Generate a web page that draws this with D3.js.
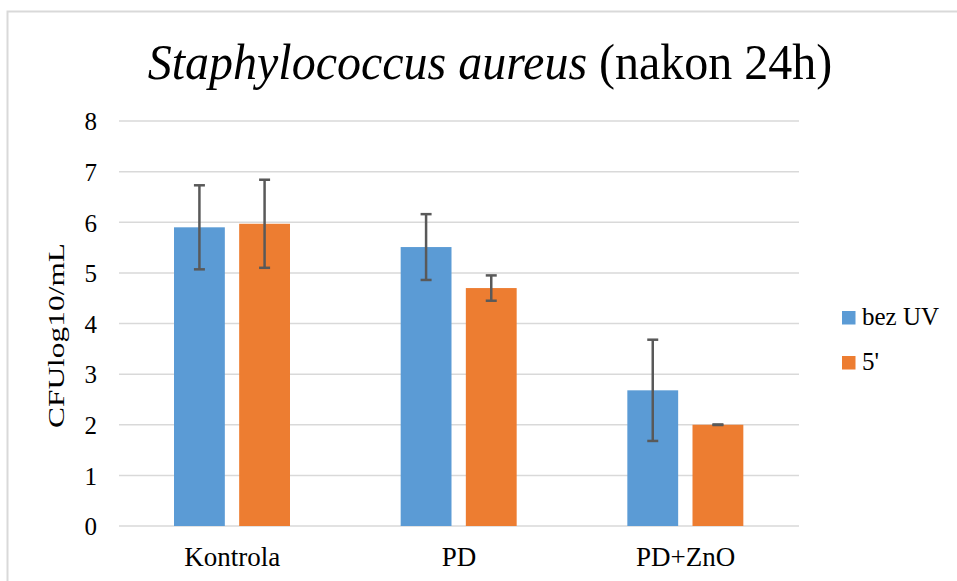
<!DOCTYPE html>
<html>
<head>
<meta charset="utf-8">
<script src="https://cdn.jsdelivr.net/npm/d3@7"></script>
<style>
  body { margin: 0; background: #fff; }
</style>
</head>
<body>
<svg width="957" height="581"></svg>
<script>
var categories = ["Kontrola", "PD", "PD+ZnO"];
var seriesNames = ["bez UV", "5'"];
var bezUV = [5.9, 5.51, 2.68];
var bezUVErr = [0.83, 0.65, 1.0];
var fiveMin = [5.97, 4.7, 2.0];
var fiveMinErr = [0.87, 0.25, 0.005];
var yTicks = [0, 1, 2, 3, 4, 5, 6, 7, 8];
var colors = ["#5B9BD5", "#ED7D31"];
var serif = "'Liberation Serif', 'Times New Roman', serif";

var rows = categories.map(function(c, i) {
  return {cat: c, vals: [
    {s: 0, v: bezUV[i], e: bezUVErr[i]},
    {s: 1, v: fiveMin[i], e: fiveMinErr[i]}
  ]};
});

var svg = d3.select("svg").attr("font-family", serif);
var margin = {left: 119, right: 158, top: 121, bottom: 55};
var width = 957 - margin.left - margin.right,
    height = 581 - margin.top - margin.bottom;

// chart frame
svg.append("rect")
    .attr("x", 7.5).attr("y", 11.5)
    .attr("width", 960).attr("height", 600)
    .attr("fill", "none")
    .attr("stroke", "#d9d9d9")
    .attr("stroke-width", 2);

var title = svg.append("text")
    .attr("transform", "translate(490,79) scale(0.96,1)")
    .attr("text-anchor", "middle")
    .style("font-size", "50px");
title.append("tspan").style("font-style", "italic").text("Staphylococcus aureus");
title.append("tspan").text(" (nakon 24h)");

var g = svg.append("g").attr("transform", "translate(" + margin.left + "," + margin.top + ")");

var x0 = d3.scaleBand().domain(categories).range([0, width]).paddingInner(0).paddingOuter(0);
var x1 = d3.scaleBand().domain([0, 1]).range([55, 171]).paddingInner(0.22).paddingOuter(0);
var y = d3.scaleLinear().domain([0, 8]).range([height, 0]);

// gridlines
g.append("g")
  .selectAll("line")
  .data(yTicks)
  .enter().append("line")
    .attr("x1", 0).attr("x2", width)
    .attr("y1", function(d) { return y(d); })
    .attr("y2", function(d) { return y(d); })
    .attr("stroke", "#d9d9d9")
    .attr("stroke-width", 1.5);

var yAxis = g.append("g")
    .call(d3.axisLeft(y).tickValues(yTicks).tickSize(0).tickPadding(22));
yAxis.attr("font-family", serif);
yAxis.select(".domain").remove();
yAxis.selectAll("text").style("font-size", "25px").attr("dy", "0.35em").attr("fill", "#000");

var xAxis = g.append("g")
    .attr("transform", "translate(0," + height + ")")
    .call(d3.axisBottom(x0).tickSize(0).tickPadding(21));
xAxis.attr("font-family", serif);
xAxis.select(".domain").remove();
xAxis.selectAll("text").style("font-size", "27px").attr("fill", "#000");

var grp = g.selectAll(".grp")
  .data(rows)
  .enter().append("g")
    .attr("class", "grp")
    .attr("transform", function(d) { return "translate(" + x0(d.cat) + ",0)"; });

grp.selectAll("rect")
  .data(function(d) { return d.vals; })
  .enter().append("rect")
    .attr("x", function(d) { return x1(d.s); })
    .attr("width", x1.bandwidth())
    .attr("y", function(d) { return y(d.v); })
    .attr("height", function(d) { return height - y(d.v); })
    .attr("fill", function(d) { return colors[d.s]; });

// error bars
var err = grp.selectAll(".err")
  .data(function(d) { return d.vals; })
  .enter().append("g")
    .attr("class", "err")
    .attr("stroke", "#595959")
    .attr("stroke-width", 2.5);
err.append("line")
    .attr("x1", function(d) { return x1(d.s) + x1.bandwidth() / 2; })
    .attr("x2", function(d) { return x1(d.s) + x1.bandwidth() / 2; })
    .attr("y1", function(d) { return y(d.v + d.e); })
    .attr("y2", function(d) { return y(d.v - d.e); });
err.selectAll(".cap")
  .data(function(d) { return [d.v + d.e, d.v - d.e].map(function(v) { return {s: d.s, v: v}; }); })
  .enter().append("line")
    .attr("x1", function(d) { return x1(d.s) + x1.bandwidth() / 2 - 5.5; })
    .attr("x2", function(d) { return x1(d.s) + x1.bandwidth() / 2 + 5.5; })
    .attr("y1", function(d) { return y(d.v); })
    .attr("y2", function(d) { return y(d.v); });

// y label
svg.append("text")
    .attr("transform", "translate(64,335.5) rotate(-90)")
    .attr("text-anchor", "middle")
    .attr("textLength", 185)
    .attr("lengthAdjust", "spacingAndGlyphs")
    .style("font-size", "24px")
    .text("CFUlog10/mL");

// legend
var legend = svg.append("g").attr("transform", "translate(842,311)");
var item = legend.selectAll("g")
  .data(seriesNames)
  .enter().append("g")
    .attr("transform", function(d, i) { return "translate(0," + i * 45 + ")"; });
item.append("rect")
    .attr("width", 13.5).attr("height", 13.5)
    .attr("fill", function(d, i) { return colors[i]; });
item.append("text")
    .attr("x", 20).attr("y", 14)
    .style("font-size", "25px")
    .text(function(d) { return d; });
</script>
</body>
</html>
